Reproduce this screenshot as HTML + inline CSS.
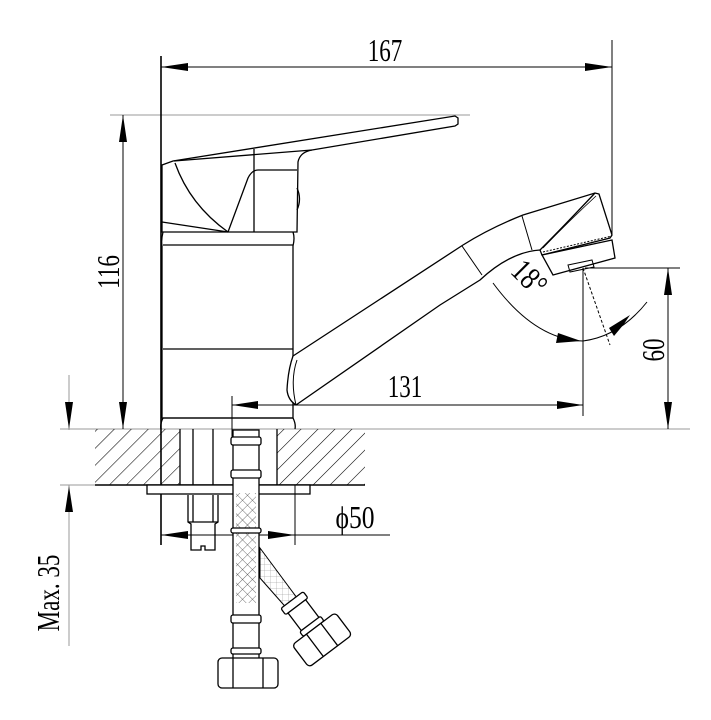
<!DOCTYPE html>
<html><head><meta charset="utf-8"><style>
html,body{margin:0;padding:0;background:#fff;}
svg{display:block;}
text{font-family:"Liberation Serif","DejaVu Serif",serif;fill:#000;}
</style></head><body>
<svg width="711" height="720" viewBox="0 0 711 720" xmlns="http://www.w3.org/2000/svg">
<defs>
<pattern id="h" width="12" height="12" patternUnits="userSpaceOnUse" patternTransform="rotate(45)">
<line x1="0" y1="0" x2="0" y2="12" stroke="#000" stroke-width="1.1"/>
</pattern>
<pattern id="x" width="7" height="7" patternUnits="userSpaceOnUse" patternTransform="rotate(45)">
<line x1="0" y1="0" x2="0" y2="7" stroke="#333" stroke-width="0.7"/>
<line x1="0" y1="0" x2="7" y2="0" stroke="#333" stroke-width="0.7"/>
</pattern>
<pattern id="g" width="6" height="6" patternUnits="userSpaceOnUse">
<line x1="0" y1="0" x2="0" y2="6" stroke="#888" stroke-width="0.5"/>
<line x1="0" y1="0" x2="6" y2="0" stroke="#888" stroke-width="0.5"/>
</pattern>
</defs>
<g fill="none" stroke="#000" stroke-width="1.3">
<line x1="110" y1="115" x2="470" y2="115" stroke="#999" stroke-width="1"/>
<line x1="60" y1="429" x2="690" y2="429" stroke="#999" stroke-width="1"/>
<line x1="60" y1="485" x2="95" y2="485" stroke="#999" stroke-width="1"/>
<line x1="69" y1="375" x2="69" y2="430" stroke="#999" stroke-width="1"/>
<line x1="69" y1="485" x2="69" y2="646" stroke="#999" stroke-width="1"/>

<line x1="161" y1="56" x2="161" y2="545" stroke-width="1.6"/>
<line x1="612" y1="40" x2="612" y2="235" stroke-width="1"/>
<line x1="161" y1="67" x2="612" y2="67" stroke-width="1"/>
<line x1="123" y1="115" x2="123" y2="429" stroke-width="1"/>
<line x1="585" y1="268" x2="680" y2="268" stroke-width="1"/>
<line x1="668" y1="268" x2="668" y2="429" stroke-width="1"/>
<line x1="583" y1="268" x2="583" y2="416" stroke-width="1"/>
<line x1="232" y1="405" x2="583" y2="405" stroke-width="1"/>
<line x1="232" y1="396" x2="232" y2="440" stroke-width="1"/>

<path d="M162 165 L173 161 L455 116 L458 118 L458 124 L455 126 L312 150 Q300 152 298 162 L297 232 L162 232 Z" fill="#fff"/>
<path d="M174 161 L312 150"/>
<path d="M175 163 Q190 205 228 232"/>
<path d="M228 232 L248 178 Q252 170 258 170 L297 170"/>
<line x1="254" y1="149" x2="254" y2="232"/>
<path d="M297 188 Q302 199 297 210"/>
<line x1="162" y1="222" x2="228" y2="232"/>
<path d="M163 232 Q161 240 162 246 L162 418 L293 418 L293 246 Q295 238 293 232"/>
<line x1="163" y1="245" x2="293" y2="245"/>
<line x1="163" y1="349" x2="293" y2="349"/>
<path d="M163 418 Q160 424 161 429 M293 418 Q296 424 295 429"/>
<line x1="163" y1="418" x2="293" y2="418"/>
<path d="M293 356 L463 245 Q490 228 523 215 L595 193 L599 194 L612 235 L610 238 L542 255 L540 250 Q510 252 480 280 L440 305 L296 405 Q288 400 287 390 Q288 370 293 356 Z" fill="#fff"/>
<path d="M297 360 Q290 380 296 405" stroke-width="1"/>
<line x1="462" y1="246" x2="482" y2="275" stroke-width="1"/>
<line x1="522" y1="216" x2="532" y2="250" stroke-width="1"/>
<path d="M540 250 Q565 225 595 193" />
<path d="M543 248 Q568 222 596 196" stroke-width="0.8"/>
<path d="M542 255 L612 240 L615 258 L553 275 Z" fill="#fff"/>
<line x1="543" y1="252" x2="612" y2="236" stroke-dasharray="2,1.5" stroke-width="1"/>
<path d="M568 265 L592 260 L594 267 L570 272 Z" stroke-width="1"/>
<line x1="583" y1="268" x2="610" y2="345" stroke-dasharray="3,2" stroke-width="1"/>
<path d="M493 283 Q535 340 583 341 Q620 336 647 302" stroke-width="1"/>

<rect x="95" y="429" width="85" height="56" fill="url(#h)" stroke="none"/>
<rect x="277" y="429" width="88" height="56" fill="url(#h)" stroke="none"/>
<line x1="95" y1="485" x2="365" y2="485" stroke-width="1.6"/>
<line x1="180" y1="429" x2="180" y2="485"/>
<line x1="277" y1="429" x2="277" y2="485"/>
<line x1="193" y1="429" x2="193" y2="485"/>
<line x1="213" y1="429" x2="213" y2="485"/>
<path d="M188 495 L188 522 L191 524 L191 550 L201 550 L201 546 L205 546 L205 550 L215 550 L215 524 L218 522 L218 495"/>
<line x1="188" y1="522" x2="218" y2="522"/>
<line x1="193" y1="495" x2="193" y2="522"/><line x1="213" y1="495" x2="213" y2="522"/>
<rect x="147" y="485" width="163" height="9" fill="#fff"/>
<line x1="295" y1="485" x2="295" y2="545" stroke-width="1"/>
<line x1="161" y1="535" x2="390" y2="535" stroke-width="1"/>

<path d="M260 548 L300 602 L290 612 L260 578 Z" fill="url(#g)" stroke-width="1"/>
<g transform="translate(292,600) rotate(-37)">
<rect x="-14" y="0" width="28" height="8" rx="2" fill="#fff"/>
<rect x="-11" y="8" width="22" height="26" fill="#fff"/>
<rect x="-13" y="30" width="26" height="6" rx="2" fill="#fff"/>
<rect x="-27" y="36" width="54" height="28" rx="4" fill="#fff"/>
<line x1="-9" y1="36" x2="-9" y2="64"/><line x1="9" y1="36" x2="9" y2="64"/>
</g>
<rect x="233" y="430" width="26" height="235" fill="#fff"/>
<rect x="236" y="493" width="20" height="110" fill="url(#x)" stroke="none"/>
<rect x="231" y="437" width="30" height="8" rx="2" fill="#fff"/>
<rect x="231" y="470" width="30" height="8" rx="2" fill="#fff"/>
<rect x="231" y="528" width="30" height="5" rx="2" fill="#fff"/>
<rect x="231" y="615" width="30" height="8" rx="2" fill="#fff"/>
<rect x="231" y="648" width="30" height="6" rx="2" fill="#fff"/>
<rect x="218" y="658" width="60" height="30" rx="4" fill="#fff"/>
<line x1="233" y1="658" x2="233" y2="688"/><line x1="263" y1="658" x2="263" y2="688"/>
</g>
<g fill="#000">
<polygon points="161,67 188,63 188,71"/>
<polygon points="612,67 585,63 585,71"/>
<polygon points="123,115 119,142 127,142"/>
<polygon points="123,429 119,402 127,402"/>
<polygon points="69,429 65,402 73,402"/>
<polygon points="69,486 65,512 73,512"/>
<polygon points="668,268 664,295 672,295"/>
<polygon points="668,429 664,402 672,402"/>
<polygon points="232,405 258,401 258,409"/>
<polygon points="583,405 557,401 557,409"/>
<polygon points="161,535 188,531 188,539"/>
<polygon points="295,535 268,531 268,539"/>
<polygon points="581,341 558,333 556,343"/>
<polygon points="609,328 630,315 624,324 614,336"/>
</g>
<g font-size="32">
<text transform="translate(385,61) scale(0.72,1)" text-anchor="middle">167</text>
<text transform="translate(405,397) scale(0.72,1)" text-anchor="middle">131</text>
<text transform="translate(355,528) scale(0.8,1)" text-anchor="middle">ϕ50</text>
<text transform="translate(119,272) rotate(-90) scale(0.72,1)" text-anchor="middle">116</text>
<text transform="translate(664,350) rotate(-90) scale(0.72,1)" text-anchor="middle">60</text>
<text transform="translate(59,593) rotate(-90) scale(0.72,1)" text-anchor="middle">Max. 35</text>
<text transform="translate(522,285) rotate(45) scale(0.8,1)" text-anchor="middle">18°</text>
</g>
</svg>
</body></html>
